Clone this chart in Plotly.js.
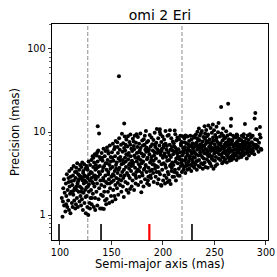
<!DOCTYPE html>
<html>
<head>
<meta charset="utf-8">
<script src="https://cdn.plot.ly/plotly-3.0.1.min.js"></script>
<style>html,body{margin:0;padding:0;background:#fff;}#chart{width:277px;height:277px;}</style>
</head>
<body>
<div id="chart"></div>
<script>
// Chart text
const chartTitle = "omi 2 Eri";
const xLabel = "Semi-major axis (mas)";
const yLabel = "Precision (mas)";
const xTickVals = [100, 150, 200, 250, 300];
const yTickVals = [1, 10, 100];
const yTickText = ["1", "10", "100"];
const yMinorTickVals = [0.6, 0.7, 0.8, 0.9, 2, 3, 4, 5, 6, 7, 8, 9, 20, 30, 40, 50, 60, 70, 80, 90, 200];

// Scatter samples: [semi-major axis (mas), precision (mas)]
const samples = [
[102.5,0.95],[101.8,1.6],[103.2,2.1],[104.1,1.3],[103.9,2.7],[104.6,1.85],[102.9,1.45],
[105.3,1.1],[105.8,2.4],[106.2,1.7],[106.7,3.1],[107.1,1.25],[107.5,2.0],[108.0,1.5],[108.3,2.8],[108.8,1.15],[109.1,3.4],[109.4,2.2],[109.8,1.8],[106.0,1.35],[108.6,2.5],
[110.2,1.05],[110.5,2.9],[110.9,1.9],[111.3,3.6],[111.6,1.4],[112.0,2.3],[112.3,1.25],[112.7,3.0],[113.0,1.75],[113.3,3.9],[113.6,2.6],[113.9,1.5],[114.3,2.1],[114.6,3.3],[114.9,1.2],[111.0,2.55],[112.9,1.95],
[115.2,2.8],[115.5,1.35],[115.8,3.7],[116.2,2.0],[116.5,1.6],[116.8,4.2],[117.1,2.4],[117.4,1.25],[117.8,3.1],[118.1,1.9],[118.4,2.7],[118.7,3.5],[119.0,1.45],[119.3,2.2],[119.6,4.0],[119.9,1.7],[116.0,3.3],[117.6,2.55],[118.9,3.0],[115.9,2.2],
[120.2,2.9],[120.5,1.3],[120.8,3.8],[121.1,2.1],[121.4,1.55],[121.7,4.3],[122.0,2.6],[122.3,1.15],[122.6,3.4],[122.9,1.85],[123.2,2.4],[123.5,4.1],[123.8,1.4],[124.1,3.0],[124.4,2.0],[124.7,3.6],[121.0,2.75],[122.5,3.2],[123.9,2.6],[124.9,1.65],[120.9,1.9],[123.3,2.9],
[125.1,1.05],[125.4,2.5],[125.7,3.9],[126.0,1.7],[126.3,2.9],[126.6,1.25],[126.9,3.5],[127.2,2.2],[127.5,1.0],[127.8,4.4],[128.1,1.9],[128.4,3.1],[128.7,1.4],[129.0,2.6],[129.3,4.0],[129.6,1.6],[129.9,3.3],[125.8,2.15],[127.0,2.8],[128.2,2.35],[129.1,1.2],[126.4,3.7],
[130.2,2.0],[130.5,4.6],[130.8,1.35],[131.1,3.2],[131.4,2.5],[131.7,5.1],[132.0,1.8],[132.3,3.8],[132.6,2.9],[132.9,1.25],[133.2,4.3],[133.5,2.2],[133.8,5.4],[134.1,1.6],[134.4,3.5],[134.7,2.7],[131.0,1.6],[132.5,4.9],[133.9,3.0],[134.9,4.0],[130.6,2.8],[132.2,2.4],[134.3,1.15],
[135.1,3.6],[135.4,1.9],[135.7,5.2],[136.0,2.4],[136.3,1.3],[136.6,4.4],[136.9,2.9],[137.2,6.0],[137.5,1.55],[137.8,3.3],[138.1,2.1],[138.4,5.0],[138.7,3.9],[139.0,1.2],[139.3,2.6],[139.6,4.7],[139.9,1.75],[136.7,11.7],[138.0,9.6],[135.5,2.9],[137.0,3.8],[138.9,3.1],[136.2,5.7],
[140.2,2.3],[140.5,5.6],[140.8,1.2],[141.1,3.4],[141.4,4.5],[141.7,1.7],[142.0,2.8],[142.3,6.3],[142.6,1.18],[142.9,3.9],[143.2,2.2],[143.5,5.1],[143.8,1.5],[144.1,3.0],[144.4,4.2],[144.7,2.5],[140.9,4.9],[141.9,3.7],[143.0,1.9],[144.3,5.9],[144.9,1.35],[142.4,2.6],
[145.1,3.5],[145.4,1.56],[145.7,6.5],[146.0,2.4],[146.3,4.6],[146.6,1.9],[146.9,3.1],[147.2,5.5],[147.5,2.7],[147.8,1.4],[148.1,4.0],[148.4,6.9],[148.7,2.1],[149.0,3.6],[149.3,5.0],[149.6,1.7],[149.9,2.9],[145.8,4.2],[147.0,3.3],[148.3,2.4],[149.4,4.4],[146.5,5.9],
[150.2,2.5],[150.5,5.7],[150.8,1.45],[151.1,3.8],[151.4,7.2],[151.7,2.0],[152.0,4.5],[152.3,3.0],[152.6,6.2],[152.9,1.7],[153.2,3.4],[153.5,5.1],[153.8,2.3],[154.1,7.8],[154.4,4.0],[154.7,2.8],[150.9,4.9],[152.1,2.6],[153.3,6.6],[154.6,3.6],[151.5,3.1],[153.9,1.55],
[155.1,4.3],[155.4,2.1],[155.7,7.5],[156.0,3.2],[156.3,5.6],[156.6,1.75],[156.9,4.8],[157.2,2.7],[157.3,47.0],[157.5,8.4],[157.8,3.7],[158.1,6.1],[158.4,2.3],[158.7,5.0],[159.0,3.0],[159.3,7.0],[159.6,1.9],[159.9,4.1],[155.9,6.6],[157.0,3.5],[158.3,4.5],[159.4,2.6],[156.2,2.45],
[160.2,9.5],[160.5,3.3],[160.8,5.8],[161.1,2.2],[161.4,7.3],[161.7,4.2],[162.0,1.65],[162.3,6.4],[162.4,12.7],[162.6,3.0],[162.9,8.8],[163.2,4.9],[163.5,2.5],[163.8,7.0],[164.1,3.8],[164.4,5.4],[164.7,2.0],[160.9,4.6],[162.1,3.5],[163.3,6.0],[164.5,8.1],[161.5,2.8],[163.9,4.4],
[165.1,3.2],[165.4,6.7],[165.7,2.4],[166.0,8.9],[166.3,4.7],[166.6,1.85],[166.9,5.6],[167.2,3.6],[167.5,7.6],[167.8,2.8],[168.1,4.2],[168.1,2.06],[168.4,9.3],[168.7,5.1],[169.0,3.4],[169.3,6.3],[169.6,2.2],[169.9,4.5],[165.9,5.3],[167.0,4.0],[168.3,7.0],[169.5,3.9],[166.4,3.0],
[170.2,5.9],[170.5,2.6],[170.8,8.3],[171.1,4.3],[171.4,3.1],[171.7,6.8],[172.0,2.0],[172.3,5.2],[172.6,9.0],[172.9,3.7],[173.2,4.9],[173.5,2.4],[173.8,7.4],[174.1,3.3],[174.4,9.4],[174.7,5.6],[170.9,4.0],[172.1,6.2],[173.3,3.0],[174.6,4.4],[171.6,7.7],[173.9,2.8],
[175.1,6.6],[175.4,3.5],[175.7,8.7],[176.0,2.3],[176.3,5.0],[176.6,4.1],[176.9,7.2],[177.2,2.9],[177.5,6.0],[177.8,3.8],[178.1,9.6],[178.4,4.6],[178.7,2.5],[179.0,1.88],[179.3,5.5],[179.6,3.2],[179.9,7.9],[175.9,4.8],[177.0,3.4],[178.3,6.4],[179.5,4.2],[176.5,5.7],
[180.2,3.0],[180.5,6.9],[180.8,4.4],[181.1,2.2],[181.4,8.2],[181.7,5.3],[182.0,3.6],[182.4,9.0],[182.6,2.7],[182.9,6.1],[183.2,4.0],[183.5,10.3],[183.8,5.8],[184.1,3.3],[184.4,7.5],[184.7,2.4],[180.9,5.1],[182.1,7.0],[183.3,3.9],[184.5,4.7],[181.5,3.5],[183.9,6.5],
[185.1,4.9],[185.4,2.6],[185.7,7.8],[186.0,3.7],[186.3,6.2],[186.6,2.3],[186.9,5.4],[187.2,9.2],[187.5,4.3],[187.8,3.0],[188.1,6.7],[188.4,2.8],[188.9,8.6],[189.0,5.0],[189.3,3.5],[189.6,7.1],[189.9,4.1],[186.1,5.9],[187.4,3.4],[188.6,4.6],[185.8,2.9],
[190.2,6.0],[190.5,3.2],[190.8,8.0],[191.1,2.5],[191.4,5.2],[191.7,4.0],[192.0,9.8],[192.3,3.6],[192.6,6.6],[192.9,2.9],[193.2,4.8],[193.5,7.4],[193.8,3.3],[194.1,10.9],[194.4,5.6],[194.7,2.4],[191.0,4.5],[192.2,7.0],[193.4,3.9],[194.6,6.2],[191.9,5.7],
[195.1,3.8],[195.4,8.4],[195.7,2.7],[196.0,5.9],[196.3,4.4],[196.6,6.9],[196.9,10.0],[197.0,10.8],[197.2,3.1],[197.6,9.4],[197.8,5.3],[198.1,2.3],[198.4,7.6],[198.5,2.25],[198.7,4.1],[199.0,6.3],[199.3,3.5],[199.6,8.8],[199.9,4.9],[196.1,3.3],[197.4,5.6],[198.8,5.9],
[200.2,2.6],[200.5,6.5],[200.8,4.2],[201.1,8.1],[201.4,3.0],[201.7,5.5],[202.0,2.4],[202.5,10.3],[202.6,7.2],[202.9,3.7],[203.2,5.0],[203.5,2.8],[203.8,6.8],[204.1,4.5],[204.4,9.0],[204.7,3.3],[201.0,5.2],[202.2,4.0],[203.4,6.1],[204.6,2.5],[200.9,7.0],
[205.1,5.7],[205.4,3.1],[205.7,9.2],[206.0,4.6],[206.3,2.6],[206.6,7.0],[206.9,3.9],[207.2,6.1],[207.5,2.36],[207.8,5.0],[208.1,8.4],[208.4,3.4],[208.7,6.6],[209.0,4.3],[209.3,2.9],[209.6,7.7],[209.9,5.4],[206.1,5.3],[207.4,4.0],[208.6,3.7],[209.1,6.0],[206.8,10.5],
[210.2,4.0],[210.5,7.3],[210.8,2.9],[211.1,5.8],[211.4,10.4],[211.7,3.5],[212.0,9.4],[212.3,6.4],[212.6,2.6],[212.9,4.8],[213.2,7.9],[213.5,3.2],[213.8,5.5],[214.1,8.6],[214.4,4.2],[214.7,3.0],[211.0,6.7],[212.2,4.4],[213.4,6.0],[214.6,5.1],[210.9,3.3],
[215.1,6.2],[215.4,3.6],[215.7,8.2],[216.0,4.7],[216.2,2.98],[216.6,5.7],[216.9,9.0],[217.2,3.9],[217.5,6.9],[217.8,4.3],[218.1,7.6],[218.4,3.3],[218.7,5.2],[219.0,8.9],[219.3,4.0],[219.6,6.4],[219.9,3.5],[216.1,5.0],[217.4,7.2],[218.6,4.6],[219.2,5.8],
[220.2,5.6],[220.5,3.8],[220.8,8.4],[221.1,4.5],[221.4,6.6],[221.7,3.2],[222.0,9.1],[222.3,5.0],[222.6,7.3],[222.9,4.2],[223.2,6.0],[223.5,3.5],[223.8,8.8],[224.1,5.3],[224.4,4.0],[224.7,7.0],[221.0,6.1],[222.2,4.7],[223.4,5.6],[224.6,6.4],[220.9,7.5],[222.8,3.9],
[225.1,4.4],[225.4,7.8],[225.7,3.6],[226.0,6.0],[226.3,5.1],[226.6,9.0],[226.9,4.0],[227.2,6.8],[227.5,3.4],[227.8,8.2],[228.1,5.5],[228.4,4.6],[228.7,7.3],[229.0,3.9],[229.3,6.3],[229.6,5.0],[229.9,8.9],[226.1,4.8],[227.4,5.8],[228.6,6.6],[229.1,4.3],[225.9,6.9],
[230.2,5.8],[230.5,3.7],[230.8,8.6],[231.1,4.9],[231.4,6.7],[231.7,4.1],[232.0,9.3],[232.3,5.4],[232.6,7.4],[232.9,3.5],[233.2,6.1],[233.5,10.1],[233.8,4.5],[234.1,7.9],[234.4,5.2],[234.7,6.6],[231.0,5.6],[232.2,4.4],[233.4,6.9],[234.6,3.9],[230.9,7.1],[233.1,8.4],[234.9,11.0],
[235.1,4.6],[235.4,8.0],[235.7,6.2],[236.0,3.8],[236.3,7.1],[236.6,5.3],[236.9,9.6],[237.2,4.2],[237.5,6.5],[237.8,10.3],[238.1,5.0],[238.4,7.7],[238.7,3.6],[239.0,6.0],[239.3,8.7],[239.6,4.8],[239.9,5.6],[236.1,5.7],[237.4,7.0],[238.6,6.8],[239.1,4.1],[235.8,9.0],[240.4,11.7],
[240.2,6.9],[240.5,4.3],[240.8,8.3],[241.1,5.5],[241.4,3.8],[241.7,7.2],[242.0,10.6],[242.3,6.1],[242.6,4.7],[242.9,8.9],[243.2,5.8],[243.5,3.7],[243.8,7.5],[244.1,12.0],[244.4,5.1],[244.7,6.6],[241.0,6.3],[242.2,7.8],[243.4,5.3],[244.6,4.4],[240.9,9.6],[243.9,9.3],
[245.1,5.4],[245.4,8.1],[245.7,4.2],[246.0,6.8],[246.3,11.2],[246.6,5.9],[246.9,3.9],[247.2,7.4],[247.5,9.8],[247.8,5.1],[248.1,6.4],[248.4,12.3],[248.7,4.6],[249.0,7.9],[249.3,6.0],[249.6,10.5],[249.9,5.5],[246.1,7.0],[247.4,4.8],[248.6,8.6],[249.1,3.6],[245.9,6.2],
[250.2,7.1],[250.5,4.5],[250.8,9.2],[251.1,6.1],[251.4,5.0],[251.7,8.0],[252.0,11.6],[252.3,5.7],[252.6,4.1],[252.9,7.6],[253.2,6.5],[253.5,9.9],[253.8,4.8],[254.0,12.8],[254.4,7.0],[254.7,5.4],[251.0,6.6],[252.2,8.5],[253.4,5.9],[254.6,6.2],[250.9,3.9],
[255.1,6.0],[255.4,8.8],[255.7,4.6],[256.0,7.3],[256.5,20.0],[256.6,5.3],[256.9,9.6],[257.2,6.7],[257.5,4.2],[257.8,7.9],[258.1,5.6],[258.4,11.0],[258.7,6.3],[259.0,4.9],[259.3,8.3],[259.6,5.8],[259.9,7.0],[256.1,6.2],[257.4,5.0],[258.6,9.0],[259.2,4.4],
[260.2,6.5],[260.5,4.7],[260.8,8.5],[261.1,5.9],[261.4,10.2],[261.7,7.1],[262.0,4.3],[262.3,6.8],[262.6,9.1],[262.9,5.4],[263.2,7.7],[263.3,21.9],[263.5,4.9],[263.8,6.2],[264.1,8.2],[264.4,5.7],[264.7,4.5],[261.0,7.4],[262.2,5.2],[263.4,6.0],[264.6,7.0],[260.9,5.5],
[265.1,6.4],[265.4,9.4],[265.7,5.0],[266.0,7.5],[266.2,14.4],[266.6,4.6],[266.9,8.0],[267.2,6.0],[267.5,5.3],[267.8,7.0],[268.1,9.0],[268.4,4.8],[268.7,6.6],[269.0,5.6],[269.3,8.6],[269.6,6.2],[266.1,5.9],[267.4,7.8],[268.6,5.1],[265.9,11.8],
[270.2,7.2],[270.5,5.2],[270.8,8.6],[271.1,6.1],[271.4,4.6],[271.7,7.6],[272.0,5.6],[272.3,9.1],[272.6,6.5],[272.9,5.0],[273.2,7.9],[273.5,6.0],[273.8,4.9],[274.1,8.3],[274.4,6.8],[274.7,5.5],[271.0,6.9],[272.2,5.9],[273.4,7.1],[271.6,9.3],
[275.1,6.2],[275.4,8.0],[275.7,5.4],[276.0,7.0],[276.3,5.0],[276.6,9.0],[276.9,6.6],[277.2,5.8],[277.5,7.4],[277.8,6.1],[278.1,8.7],[278.4,5.3],[278.7,6.8],[279.0,7.7],[279.3,5.6],[279.6,12.5],[279.9,6.4],[276.1,7.9],[278.5,9.4],
[280.2,7.0],[280.5,5.5],[280.8,8.3],[281.1,6.2],[281.4,4.8],[281.7,7.4],[282.0,6.0],[282.3,9.1],[282.6,5.7],[282.9,6.7],[283.2,8.0],[283.5,5.2],[283.8,7.2],[284.1,6.3],[284.4,9.4],[284.7,5.9],
[285.1,6.8],[285.5,8.6],[285.9,5.6],[286.3,7.5],[286.7,6.2],[287.1,9.0],[287.5,5.9],[287.9,7.1],[288.3,6.5],[288.7,5.4],[289.0,14.5],[289.7,16.9],[289.4,8.2],[288.9,6.9],
[290.3,7.0],[290.7,10.9],[291.1,6.3],[291.6,8.0],[292.2,6.7],[292.8,5.8],[293.3,7.4],[294.2,11.5],[294.0,9.3],[295.1,6.3],[295.6,6.1],[294.8,8.6]
];

// Reference positions (mas)
const limitLines = [127.0, 218.5];         // grey dashed lines
const blackMarkers = [99.1, 139.9, 228.2]; // short black bars
const redMarkers = [186.8];                // short red bar
const barBottom = 0.5, barTop = 0.78;
const yMin = 0.5, yMax = 200;
const xMin = 92.3, xMax = 302;

function vlines(xs, y0, y1) {
  const x = [], y = [];
  xs.forEach(v => { x.push(v, v, null); y.push(y0, y1, null); });
  return {x, y};
}

const dashed = vlines(limitLines, yMin, yMax);
const blk = vlines(blackMarkers, barBottom, barTop);
const red = vlines(redMarkers, barBottom, barTop);

const traces = [
  {x: dashed.x, y: dashed.y, mode: 'lines', type: 'scatter', hoverinfo: 'skip',
   line: {color: '#a0a0a0', width: 1.2, dash: '4px,2px'}},
  {x: samples.map(p => p[0]), y: samples.map(p => p[1]), mode: 'markers', type: 'scatter',
   marker: {color: 'black', size: 4.0, line: {width: 0}}},
  {x: blk.x, y: blk.y, mode: 'lines', type: 'scatter', line: {color: 'black', width: 1.6}},
  {x: red.x, y: red.y, mode: 'lines', type: 'scatter', line: {color: 'red', width: 2.2}}
];

const font = {family: 'DejaVu Sans, sans-serif', color: 'black'};
const layout = {
  width: 277, height: 277,
  margin: {l: 52, r: 9, t: 24, b: 37},
  paper_bgcolor: 'white', plot_bgcolor: 'white',
  showlegend: false,
  font: Object.assign({size: 10}, font),
  title: {text: chartTitle, font: Object.assign({size: 14}, font),
          x: 0.5, xref: 'paper', xanchor: 'center', y: 1 - 15.5/277, yref: 'container', yanchor: 'middle'},
  xaxis: {
    type: 'linear', range: [xMin, xMax], tickvals: xTickVals,
    ticks: 'outside', ticklen: 3.5, tickwidth: 0.8, tickcolor: 'black',
    showline: true, linecolor: 'black', linewidth: 1, mirror: true,
    showgrid: false, zeroline: false,
    tickfont: Object.assign({size: 9.6}, font)
  },
  yaxis: {
    type: 'log', range: [Math.log10(yMin), Math.log10(yMax)],
    tickvals: yTickVals, ticktext: yTickText,
    ticks: 'outside', ticklen: 3.5, tickwidth: 0.8, tickcolor: 'black',
    minor: {tickvals: yMinorTickVals, ticks: 'outside', ticklen: 2, tickwidth: 0.6, tickcolor: 'black', showgrid: false},
    showline: true, linecolor: 'black', linewidth: 1, mirror: true,
    showgrid: false, zeroline: false,
    tickfont: Object.assign({size: 9.6}, font),
    title: {text: yLabel, font: Object.assign({size: 11.5}, font), standoff: 5}
  },
  annotations: [{
    text: xLabel, showarrow: false, font: Object.assign({size: 11.5}, font),
    xref: 'paper', x: 0.5, xanchor: 'center',
    yref: 'paper', y: (240 - 263.5) / 216, yanchor: 'middle'
  }]
};

Plotly.newPlot('chart', traces, layout, {staticPlot: true, displayModeBar: false});
</script>
</body>
</html>
